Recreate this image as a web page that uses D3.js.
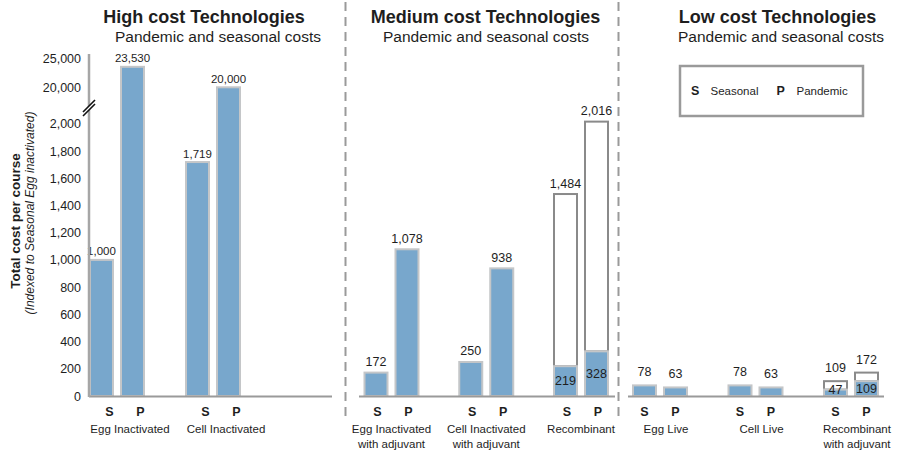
<!DOCTYPE html>
<html>
<head>
<meta charset="utf-8">
<script src="https://cdn.jsdelivr.net/npm/d3@7"></script>
<style>
  html, body { margin: 0; padding: 0; background: #fff; }
  svg { display: block; font-family: "Liberation Sans", Arial, Helvetica, sans-serif; }
</style>
</head>
<body>
<svg id="chart" width="898" height="454"></svg>
<script>
// ---------- DATA ----------
const panelTitles = ["High cost Technologies", "Medium cost Technologies", "Low cost Technologies"];
const panelSubtitles = ["Pandemic and seasonal costs", "Pandemic and seasonal costs", "Pandemic and seasonal costs"];

const highCategories = [["Egg Inactivated"], ["Cell Inactivated"]];
const highSeasonal = [1000, 1719];
const highPandemic = [23530, 20000];
const highSeasonalTotal = [null, null];
const highPandemicTotal = [null, null];

const mediumCategories = [["Egg Inactivated", "with adjuvant"], ["Cell Inactivated", "with adjuvant"], ["Recombinant"]];
const mediumSeasonal = [172, 250, 219];
const mediumPandemic = [1078, 938, 328];
const mediumSeasonalTotal = [null, null, 1484];
const mediumPandemicTotal = [null, null, 2016];

const lowCategories = [["Egg Live"], ["Cell Live"], ["Recombinant", "with adjuvant"]];
const lowSeasonal = [78, 78, 47];
const lowPandemic = [63, 63, 109];
const lowSeasonalTotal = [null, null, 109];
const lowPandemicTotal = [null, null, 172];

const lowerTicks = [0, 200, 400, 600, 800, 1000, 1200, 1400, 1600, 1800, 2000];
const upperTicks = [20000, 25000];
const seriesKeys = ["S", "P"];
const legendItems = [["S", "Seasonal"], ["P", "Pandemic"]];
const yTitle = "Total cost per course";
const ySubtitle = "(Indexed to Seasonal Egg inactivated)";

// ---------- SETUP ----------
const svg = d3.select("#chart");
const BLUE = "#78a7cc";
const BORDER = "#c4c6c8";
const GRAY = "#9a9a9a";
const TEXT = "#1e1e1e";
const fmt = d3.format(",");

const baseY = 396;
const yLow = d3.scaleLinear().domain([0, 2000]).range([baseY, 123.8]);
const yHigh = d3.scaleLinear().domain([20000, 25000]).range([87.3, 58.3]);
const yv = v => v >= upperTicks[0] / 2 ? yHigh(v) : yLow(v);

const panels = [
  { cats: highCategories, s: highSeasonal, p: highPandemic, sT: highSeasonalTotal, pT: highPandemicTotal,
    range: [117, 213], base: [89, 332], titleX: 204, subX: 218, spShift: 8, nameShift: 13, valFont: 11.5, valOff: 8.5 },
  { cats: mediumCategories, s: mediumSeasonal, p: mediumPandemic, sT: mediumSeasonalTotal, pT: mediumPandemicTotal,
    range: [391.5, 581], base: [359, 615], titleX: 485.5, subX: 486, spShift: 1.5, nameShift: 0, valFont: 12.5, valOff: 10.5 },
  { cats: lowCategories, s: lowSeasonal, p: lowPandemic, sT: lowSeasonalTotal, pT: lowPandemicTotal,
    range: [660, 851], base: [628, 884], titleX: 777.5, subX: 781, spShift: 0, nameShift: 6, valFont: 12.5, valOff: 13 }
];

const barW = 25, half = 15.5;

// dividers
[345.5, 618.5].forEach(x => {
  svg.append("line").attr("x1", x).attr("x2", x).attr("y1", 2).attr("y2", 417)
    .attr("stroke", GRAY).attr("stroke-width", 2).attr("stroke-dasharray", "9,6");
});

panels.forEach((pn, i) => {
  // titles
  svg.append("text").attr("x", pn.titleX).attr("y", 23).attr("text-anchor", "middle")
    .attr("font-size", 18).attr("font-weight", "bold").attr("fill", TEXT).text(panelTitles[i]);
  svg.append("text").attr("x", pn.subX).attr("y", 42).attr("text-anchor", "middle")
    .attr("font-size", 15.5).attr("fill", TEXT).text(panelSubtitles[i]);

  const names = pn.cats.map(c => c.join(" "));
  const gx = d3.scalePoint().domain(names).range(pn.range);
  const sub = d3.scalePoint().domain(seriesKeys).range([-half, half]);

  const rows = [];
  names.forEach((n, j) => {
    rows.push({ n, key: "S", v: pn.s[j], t: pn.sT[j] });
    rows.push({ n, key: "P", v: pn.p[j], t: pn.pT[j] });
  });

  const g = svg.append("g");

  // outline (total) bars
  rows.filter(r => r.t != null).forEach(r => {
    const cx = gx(r.n) + sub(r.key);
    g.append("rect").attr("x", cx - barW / 2 + 1).attr("width", barW - 2)
      .attr("y", yv(r.t)).attr("height", yv(r.v) - yv(r.t))
      .attr("fill", "#fff").attr("stroke", "#8a8a8a").attr("stroke-width", 2);
  });

  // blue bars
  rows.forEach(r => {
    const cx = gx(r.n) + sub(r.key);
    g.append("rect").attr("x", cx - barW / 2 + 1).attr("width", barW - 2)
      .attr("y", yv(r.v)).attr("height", baseY - yv(r.v))
      .attr("fill", BLUE).attr("stroke", BORDER).attr("stroke-width", 2);
  });

  // baseline
  svg.append("line").attr("x1", pn.base[0]).attr("x2", pn.base[1]).attr("y1", baseY + 0.5).attr("y2", baseY + 0.5)
    .attr("stroke", GRAY).attr("stroke-width", 2);

  // value labels
  rows.forEach(r => {
    const cx = gx(r.n) + sub(r.key);
    if (r.t != null) {
      g.append("text").attr("x", cx).attr("y", yv(r.t) - pn.valOff).attr("text-anchor", "middle")
        .attr("dominant-baseline", "central").attr("font-size", pn.valFont).attr("fill", TEXT).text(fmt(r.t));
      g.append("text").attr("x", cx).attr("y", Math.min((yv(r.v) + baseY) / 2, baseY - 6.5)).attr("text-anchor", "middle")
        .attr("dominant-baseline", "central").attr("font-size", pn.valFont).attr("fill", TEXT).text(fmt(r.v));
    } else {
      g.append("text").attr("x", cx).attr("y", yv(r.v) - pn.valOff).attr("text-anchor", "middle")
        .attr("dominant-baseline", "central").attr("font-size", pn.valFont).attr("fill", TEXT).text(fmt(r.v));
    }
  });

  // S / P labels
  rows.forEach(r => {
    svg.append("text").attr("x", gx(r.n) + sub(r.key) + pn.spShift).attr("y", 412)
      .attr("text-anchor", "middle").attr("dominant-baseline", "central")
      .attr("font-size", 12.5).attr("font-weight", "bold").attr("fill", TEXT).text(r.key);
  });

  // category names
  pn.cats.forEach((c, j) => {
    const t = svg.append("text").attr("text-anchor", "middle").attr("font-size", 11.5).attr("fill", TEXT);
    c.forEach((line, k) => {
      t.append("tspan").attr("x", gx(names[j]) + pn.nameShift).attr("y", 433 + k * 14.5).text(line);
    });
  });
});

// y axis
const axX = 89;
svg.append("line").attr("x1", axX).attr("x2", axX).attr("y1", 54).attr("y2", baseY + 1)
  .attr("stroke", "#a6a6a6").attr("stroke-width", 2.5);

const axLow = svg.append("g").attr("transform", `translate(${axX},0)`)
  .call(d3.axisLeft(yLow).tickValues(lowerTicks).tickFormat(fmt).tickSize(0).tickPadding(8));
const axHigh = svg.append("g").attr("transform", `translate(${axX},0)`)
  .call(d3.axisLeft(yHigh).tickValues(upperTicks).tickFormat(fmt).tickSize(0).tickPadding(8));
[axLow, axHigh].forEach(a => {
  a.select(".domain").remove();
  a.selectAll("text").attr("font-size", 12.5).attr("fill", TEXT)
    .attr("font-family", "'Liberation Sans', Arial, sans-serif");
});

// axis break
svg.append("polygon").attr("points", "83,112 95,100 95,104 83,116").attr("fill", "#fff");
svg.append("line").attr("x1", 83).attr("y1", 112).attr("x2", 95).attr("y2", 100).attr("stroke", "#111").attr("stroke-width", 1.6);
svg.append("line").attr("x1", 83).attr("y1", 116).attr("x2", 95).attr("y2", 104).attr("stroke", "#111").attr("stroke-width", 1.6);

// y titles
svg.append("text").attr("transform", "translate(15,221) rotate(-90)").attr("text-anchor", "middle")
  .attr("dominant-baseline", "central").attr("font-size", 13.5).attr("font-weight", "bold").attr("fill", TEXT).text(yTitle);
svg.append("text").attr("transform", "translate(30,213) rotate(-90)").attr("text-anchor", "middle")
  .attr("dominant-baseline", "central").attr("font-size", 12).attr("font-style", "italic").attr("fill", TEXT).text(ySubtitle);

// legend
svg.append("rect").attr("x", 680).attr("y", 66).attr("width", 183).attr("height", 50)
  .attr("fill", "#fff").attr("stroke", GRAY).attr("stroke-width", 2.5);
const legX = [[691, 710.5], [776.5, 796.5]];
legendItems.forEach((it, i) => {
  svg.append("text").attr("x", legX[i][0]).attr("y", 91).attr("dominant-baseline", "central")
    .attr("font-size", 12.5).attr("font-weight", "bold").attr("fill", TEXT).text(it[0]);
  svg.append("text").attr("x", legX[i][1]).attr("y", 91).attr("dominant-baseline", "central")
    .attr("font-size", 11.5).attr("fill", TEXT).text(it[1]);
});
</script>
</body>
</html>
